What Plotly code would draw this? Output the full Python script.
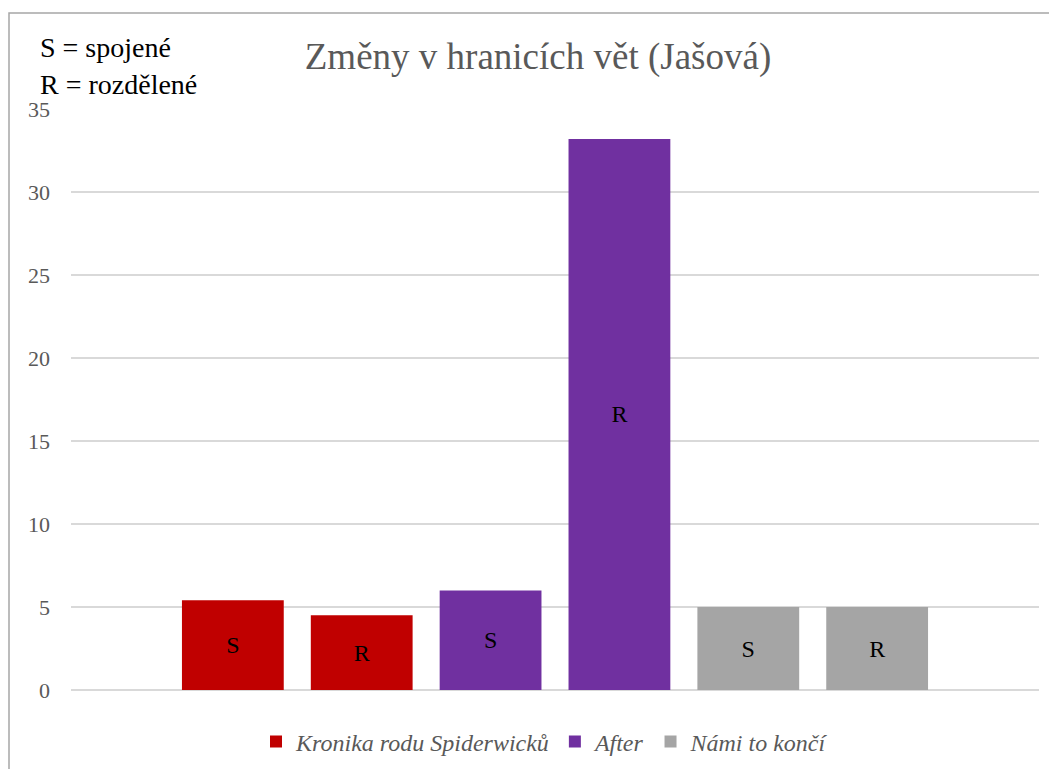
import plotly.graph_objects as go

series_names = ["Kronika rodu Spiderwicků", "After", "Námi to končí"]
series_colors = ["#C00000", "#7030A0", "#A5A5A5"]
bar_labels = [["S", "R"], ["S", "R"], ["S", "R"]]
bar_positions = [[1, 2], [3, 4], [5, 6]]
series_values = [[5.4, 4.5], [6.0, 33.2], [5.0, 5.0]]
y_ticks = [0, 5, 10, 15, 20, 25, 30, 35]

title_text = "Změny v hranicích vět (Jašová)"
note_lines = ["S = spojené", "R = rozdělené"]

serif = "Liberation Serif"

# the page body has an 8px default margin: work in window pixels, shift by OFF
OFF = 8
W, H = 1057 - OFF, 769 - OFF
L, T = 71 - OFF, 109 - OFF
R = W - (1039 - OFF)
B = H - (690 - OFF)
pw, ph = W - L - R, H - T - B

def px_to_paper(px, py):
    px, py = px - OFF, py - OFF
    return (px - L) / pw, (H - B - py) / ph

fig = go.Figure()
for name, color, labels, xs, vals in zip(series_names, series_colors, bar_labels, bar_positions, series_values):
    fig.add_trace(go.Bar(
        name=name, x=xs, y=vals, text=labels,
        marker=dict(color=color, line=dict(width=0)),
        width=0.79,
        textposition="inside", insidetextanchor="middle",
        textfont=dict(family=serif, size=24, color="black"),
        textangle=0, hoverinfo="skip",
    ))

x0, y0 = px_to_paper(9, 13)
x1, y1 = px_to_paper(1070, 790)

fig.update_layout(
    width=W, height=H,
    margin=dict(l=L, r=R, t=T, b=B, autoexpand=False),
    paper_bgcolor="white", plot_bgcolor="white",
    font=dict(family=serif, color="#595959"),
    barmode="overlay",
    showlegend=True,
    title=dict(text=title_text, x=(538 - OFF) / W, xanchor="center", y=1 - (56 - OFF) / H, yanchor="middle",
               font=dict(family=serif, size=37, color="#595959")),
    xaxis=dict(range=[-0.256, 7.256], showticklabels=False, showgrid=False, zeroline=False,
               showline=False, ticks="", automargin=False),
    yaxis=dict(range=[0, 35], tickvals=y_ticks, showgrid=True, gridcolor="#D9D9D9", gridwidth=2,
               zeroline=True, zerolinecolor="#D9D9D9", zerolinewidth=2, showline=False, ticks="",
               tickfont=dict(family=serif, size=22, color="#595959"), ticklabelstandoff=20,
               automargin=False),
    legend=dict(orientation="h", x=px_to_paper(545, 0)[0], xanchor="center", y=px_to_paper(0, 742)[1], yanchor="middle",
                font=dict(family=serif, size=24, color="#595959", style="italic"),
                itemwidth=30, tracegroupgap=0, traceorder="normal"),
    shapes=[dict(type="rect", xref="paper", yref="paper", x0=x0, y0=y1, x1=x1, y1=y0,
                 line=dict(color="#A6A6A6", width=1.5), fillcolor="rgba(0,0,0,0)", layer="below")],
    annotations=[
        dict(text=note_lines[0], xref="paper", yref="paper", x=px_to_paper(38, 0)[0], y=px_to_paper(0, 48)[1],
             xanchor="left", yanchor="middle", showarrow=False,
             font=dict(family=serif, size=28, color="black")),
        dict(text=note_lines[1], xref="paper", yref="paper", x=px_to_paper(38, 0)[0], y=px_to_paper(0, 84)[1],
             xanchor="left", yanchor="middle", showarrow=False,
             font=dict(family=serif, size=28, color="black")),
    ],
)

fig.write_html("out.html")
